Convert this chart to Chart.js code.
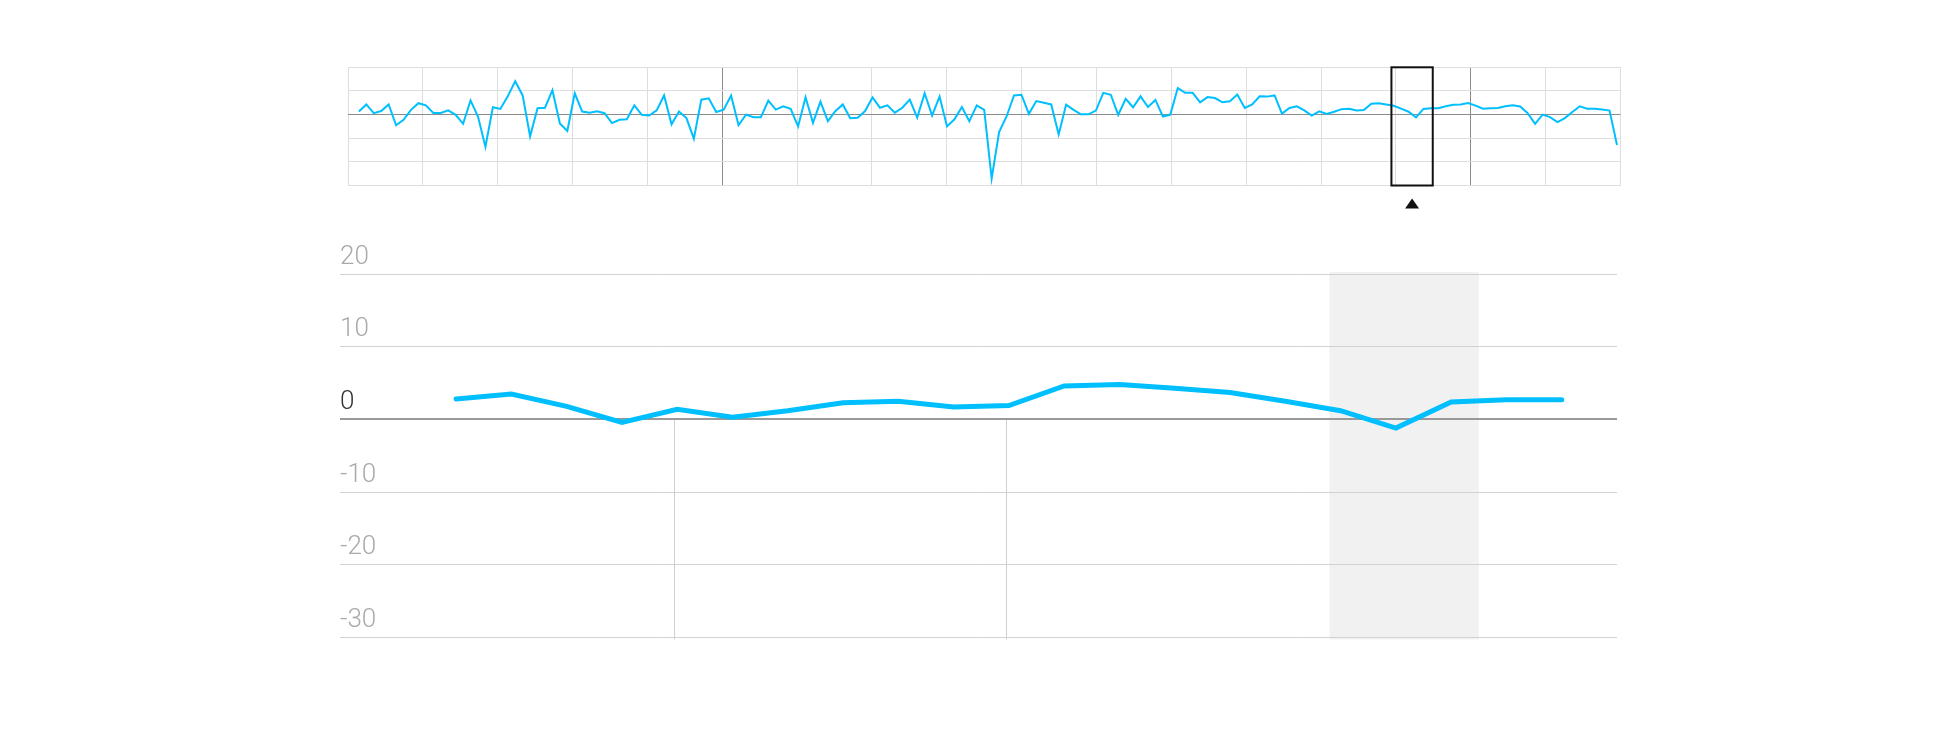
<!DOCTYPE html>
<html>
<head>
<meta charset="utf-8">
<script src="https://cdn.jsdelivr.net/npm/chart.js@4.4.1/dist/chart.umd.min.js"></script>
<style>
  html, body { margin: 0; padding: 0; background: #ffffff; }
  .layer { position: absolute; left: 0; top: 0; width: 1960px; height: 744px; }
</style>
</head>
<body>
<div class="layer"><canvas id="overview"></canvas></div>
<div class="layer"><canvas id="detail"></canvas></div>
<script>
// ---- data ----
const seriesValues = [
  1.3, 4.3, 0.6, 1.5, 4.3, -4.5, -2.2, 2.0, 4.8, 3.9,
  0.7, 0.7, 1.8, -0.1, -3.9, 6.0, -0.8, -13.6, 3.1, 2.4,
  7.7, 14.1, 8.1, -9.2, 2.7, 2.9, 10.3, -3.8, -6.9, 9.0,
  1.3, 0.8, 1.4, 0.6, -3.6, -2.2, -2.0, 3.9, -0.1, -0.4,
  1.8, 8.1, -4.1, 1.3, -1.5, -10.2, 6.3, 6.9, 1.1, 2.1,
  8.1, -4.5, 0.0, -1.1, -1.1, 5.9, 2.1, 3.5, 2.4, -5.0,
  7.3, -3.5, 5.5, -2.8, 1.4, 4.3, -1.5, -1.3, 1.5, 7.3,
  2.9, 3.9, 0.8, 2.9, 6.3, -1.3, 9.0, -0.4, 7.6, -5.0,
  -2.0, 3.2, -2.8, 3.9, 2.0, -27.0, -7.4, -0.8, 8.1, 8.4,
  0.3, 5.7, 5.0, 4.3, -8.4, 4.2, 2.0, 0.1, 0.1, 1.7,
  9.2, 8.4, -0.1, 6.7, 3.1, 7.7, 3.2, 6.2, -0.8, 0.0,
  11.2, 9.2, 9.2, 5.2, 7.4, 7.0, 5.2, 5.6, 8.5, 2.8,
  4.3, 7.7, 7.6, 8.1, 0.4, 2.8, 3.5, 1.8, -0.4, 1.4,
  0.3, 1.2, 2.3, 2.5, 1.7, 1.9, 4.6, 4.8, 4.3, 3.7,
  2.5, 1.2, -1.2, 2.4, 2.7, 2.7, 3.5, 4.2, 4.3, 4.9,
  3.8, 2.5, 2.7, 2.8, 3.5, 3.9, 3.4, 0.6, -3.9, 0.0,
  -1.1, -3.2, -1.5, 1.1, 3.5, 2.5, 2.5, 2.1, 1.7, -12.9
];
const yTickValues = [20, 10, 0, -10, -20, -30];
const yTickLabels = ['20', '10', '0', '-10', '-20', '-30'];

// overview x range and grid (in series-index units)
const overviewRange = [-1.46, 169.47];
const overviewGridCount = 17;
const overviewDarkGrid = [5, 15];
const selectionWindow = [138.7, 144.25];

// detail view
const detailFirst = 125;
const detailLast = 145;
const detailRange = [122.9, 146.0];
const detailDividers = [128.95, 134.95];
const detailBand = [140.8, 143.5];

const BLUE = '#00bfff';

// ---- overview chart ----
const overviewData = seriesValues.map((v, i) => ({ x: i, y: v }));
const gridStep = (overviewRange[1] - overviewRange[0]) / overviewGridCount;
const overviewGridTicks = [];
for (let k = 0; k <= overviewGridCount; k++) overviewGridTicks.push(overviewRange[0] + k * gridStep);

const selectionPlugin = {
  id: 'selection',
  afterDraw(chart) {
    const { ctx, chartArea, scales } = chart;
    const x0 = scales.x.getPixelForValue(selectionWindow[0]);
    const x1 = scales.x.getPixelForValue(selectionWindow[1]);
    ctx.save();
    ctx.strokeStyle = '#111';
    ctx.lineWidth = 2;
    ctx.strokeRect(x0, chartArea.top, x1 - x0, chartArea.bottom - chartArea.top);
    const cx = (x0 + x1) / 2;
    const ty = chartArea.bottom + 13;
    ctx.fillStyle = '#111';
    ctx.beginPath();
    ctx.moveTo(cx, ty);
    ctx.lineTo(cx + 7, ty + 10);
    ctx.lineTo(cx - 7, ty + 10);
    ctx.closePath();
    ctx.fill();
    ctx.restore();
  }
};

new Chart(document.getElementById('overview'), {
  type: 'line',
  data: { datasets: [{ data: overviewData, borderColor: BLUE, borderWidth: 2, pointRadius: 0, tension: 0, fill: false }] },
  options: {
    responsive: true, maintainAspectRatio: false, animation: false,
    layout: { padding: { left: 348, right: 339.5, top: 67.3, bottom: 558.5 } },
    plugins: { legend: { display: false }, tooltip: { enabled: false } },
    events: [],
    scales: {
      x: {
        type: 'linear', min: overviewRange[0], max: overviewRange[1],
        afterBuildTicks: (s) => { s.ticks = overviewGridTicks.map(v => ({ value: v })); },
        afterFit: (s) => { s.height = 0; },
        ticks: { display: false },
        border: { display: false },
        grid: {
          drawTicks: false, lineWidth: 1,
          color: (c) => overviewDarkGrid.includes(c.index) ? '#8c8c8c' : '#dedede'
        }
      },
      y: {
        type: 'linear', min: -30, max: 20,
        afterBuildTicks: (s) => { s.ticks = yTickValues.map(v => ({ value: v })); },
        afterFit: (s) => { s.width = 0; },
        ticks: { display: false },
        border: { display: false },
        grid: { drawTicks: false, lineWidth: 1, color: (c) => c.tick.value === 0 ? '#8c8c8c' : '#dedede' }
      }
    }
  },
  plugins: [selectionPlugin]
});

// ---- detail chart ----
const detailData = [];
for (let i = detailFirst; i <= detailLast; i++) detailData.push({ x: i, y: seriesValues[i] });

const detailDecor = {
  id: 'detailDecor',
  beforeDraw(chart) {
    const { ctx, chartArea, scales } = chart;
    const x0 = scales.x.getPixelForValue(detailBand[0]);
    const x1 = scales.x.getPixelForValue(detailBand[1]);
    ctx.save();
    ctx.fillStyle = '#f1f1f1';
    ctx.fillRect(x0, chartArea.top - 2, x1 - x0, chartArea.bottom - chartArea.top + 4);
    ctx.strokeStyle = '#cfcfcf';
    ctx.lineWidth = 1;
    const yz = scales.y.getPixelForValue(0);
    detailDividers.forEach(v => {
      const x = Math.round(scales.x.getPixelForValue(v)) + 0.5;
      ctx.beginPath();
      ctx.moveTo(x, yz);
      ctx.lineTo(x, chartArea.bottom + 2);
      ctx.stroke();
    });
    ctx.restore();
  }
};

new Chart(document.getElementById('detail'), {
  type: 'line',
  data: { datasets: [{ data: detailData, borderColor: BLUE, borderWidth: 5, pointRadius: 0, tension: 0, fill: false,
    borderCapStyle: 'round', borderJoinStyle: 'miter' }] },
  options: {
    responsive: true, maintainAspectRatio: false, animation: false,
    layout: { padding: { left: 340, right: 343, top: 274, bottom: 106.5 } },
    plugins: { legend: { display: false }, tooltip: { enabled: false } },
    events: [],
    scales: {
      x: {
        type: 'linear', min: detailRange[0], max: detailRange[1],
        display: false
      },
      y: {
        type: 'linear', min: -30, max: 20,
        afterBuildTicks: (s) => { s.ticks = yTickValues.map(v => ({ value: v })); },
        afterFit: (s) => { s.width = 0; },
        border: { display: false },
        grid: {
          drawTicks: false,
          color: (c) => c.tick.value === 0 ? '#999999' : '#d2d2d2',
          lineWidth: (c) => c.tick.value === 0 ? 2 : 1
        },
        ticks: {
          mirror: true, padding: 0, labelOffset: -17,
          font: { family: 'Roboto', weight: 300, size: 26 },
          color: (c) => c.tick.value === 0 ? '#333333' : '#aaaaaa',
          callback: (v) => yTickLabels[yTickValues.indexOf(v)]
        }
      }
    }
  },
  plugins: [detailDecor]
});
</script>
</body>
</html>
